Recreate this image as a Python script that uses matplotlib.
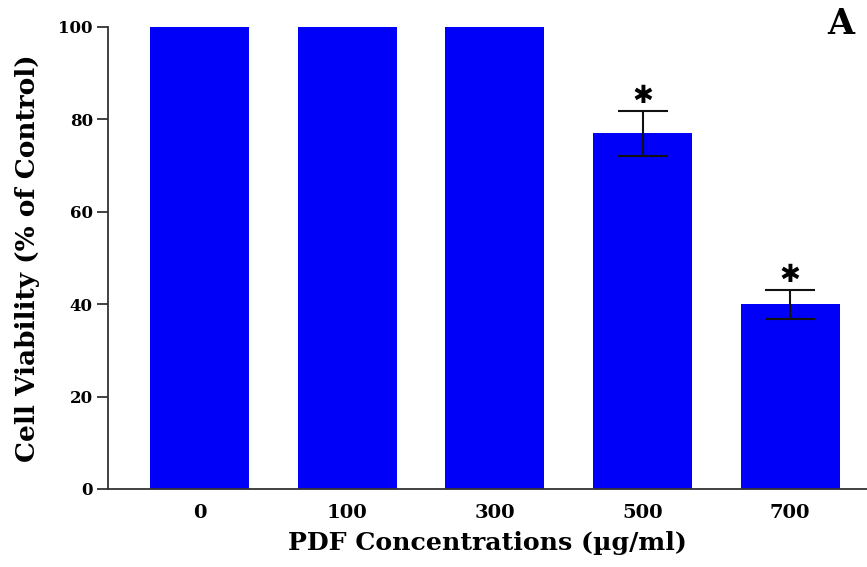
import matplotlib.pyplot as plt
import numpy as np

# data
concentrations = ['0', '100', '300', '500', '700']
viability = [100, 100, 100, 77, 40]
errors = [0, 0, 0, 4.9, 3.1]
significant = [False, False, False, True, True]

plt.rcParams['font.family'] = ['DejaVu Serif']
plt.rcParams['font.weight'] = 'bold'

fig = plt.figure(figsize=(8.67, 5.67), dpi=100)
ax = fig.add_axes([0.1246, 0.1376, 0.8754, 0.8148])

x = np.arange(len(concentrations))
ax.bar(x, viability, width=0.67, color='#0000f8', zorder=2)

# error bars only where there is an error, star for significance
for xi, v, e, sig in zip(x, viability, errors, significant):
    if e > 0:
        ax.errorbar(xi, v, yerr=e, fmt='none', ecolor='#111111', elinewidth=1.5,
                    capsize=18, capthick=1.5, zorder=3)
    if sig:
        ax.text(xi, v + e + 0.6, '\u2731', ha='center', va='bottom',
                fontsize=18, family='DejaVu Sans')

ax.set_xlim(-0.62, 4.52)
ax.set_ylim(0, 100)
ax.set_yticks([0, 20, 40, 60, 80, 100])
ax.set_xticks(x)
ax.set_xticklabels(concentrations)

ax.spines['top'].set_visible(False)
ax.spines['right'].set_visible(False)
for side in ['left', 'bottom']:
    ax.spines[side].set_linewidth(1.3)
    ax.spines[side].set_color('#333333')

ax.tick_params(axis='y', direction='out', length=8, width=1.3, labelsize=12, pad=3,
               color='#333333')
ax.tick_params(axis='x', length=0, labelsize=14, pad=11)

ax.set_ylabel('Cell Viability (% of Control)', fontsize=19, fontweight='bold', labelpad=13)
ax.set_xlabel('PDF Concentrations (\u00b5g/ml)', fontsize=18.2, fontweight='bold', labelpad=6)

fig.text(0.985, 0.958, 'A', ha='right', va='center', fontsize=25, fontweight='bold')

plt.savefig('out.png', dpi=100)
